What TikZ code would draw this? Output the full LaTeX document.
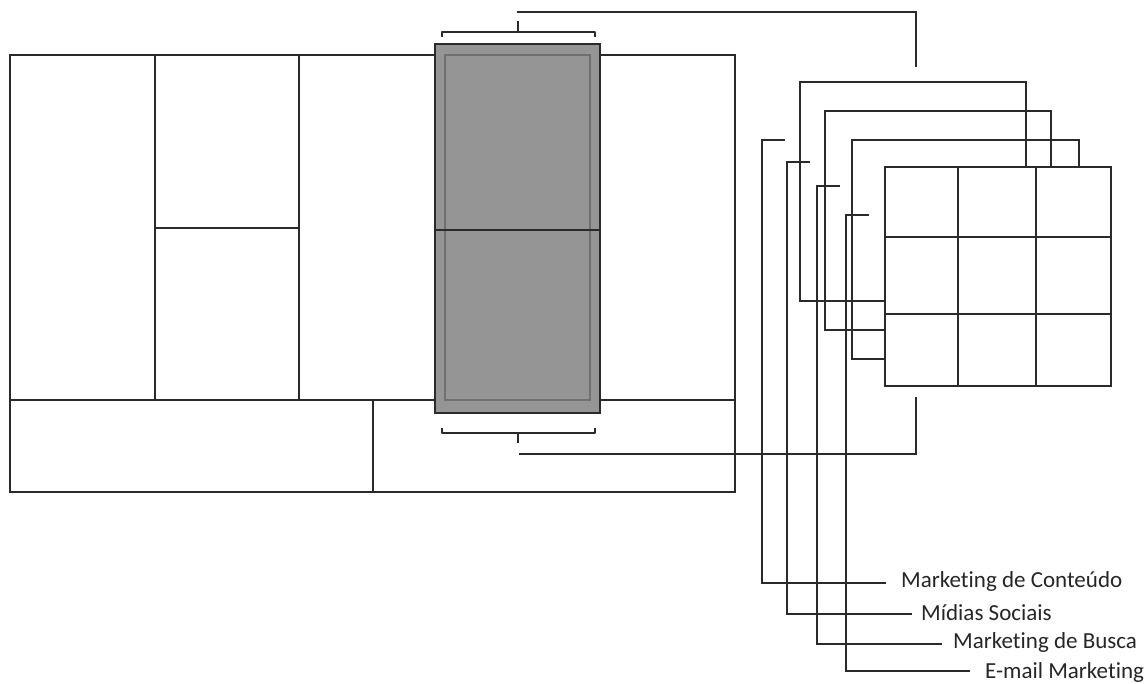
\documentclass[tikz,border=0pt]{standalone}
\usepackage{fontspec}
\setmainfont{Carlito}[Ligatures=NoCommon]
\usepackage{tikz}
\usetikzlibrary{positioning,calc}
\definecolor{colgray}{HTML}{959595}
\definecolor{colline}{HTML}{707070}
\definecolor{inkline}{HTML}{2A2A2A}
\tikzset{
  % canvas
  cv/.style={draw=inkline,line width=1.4pt},
  col/.style={fill=colgray,draw=inkline,line width=1.4pt},
  colin/.style={draw=colline,line width=1.4pt},
  % chaves e ligações
  brc/.style={draw=inkline,line width=1.3pt,line join=round},
  ldr/.style={draw=inkline,line width=1.3pt},
  % camadas
  lay/.style={draw=inkline,line width=1.3pt},
  lbl/.style={font=\fontsize{23}{28}\selectfont,text=black!85,anchor=west,inner sep=0pt},
}
\begin{document}
\begin{tikzpicture}[x=1pt,y=-1pt]
\useasboundingbox (0,0) rectangle (1147,684);
  % canvas
  \draw[cv] (10,55) rectangle (735,492);
  \draw[cv] (10,400) -- (735,400);
  \draw[cv] (155,55) -- (155,400);
  \draw[cv] (299,55) -- (299,400);
  \draw[cv] (155,228) -- (299,228);
  \draw[cv] (373,400) -- (373,492);
  % coluna destacada
  \draw[col] (435,44) rectangle (600,413);
  \draw[colin] (445,55) rectangle (590,400);
  \draw[cv] (435,230) -- (600,230);
  % chaves
  \coordinate (bt) at (518,32);
  \coordinate (bb) at (518,433);
  \draw[brc] (442,37) -- (442,32) -- (595,32) -- (595,37);
  \draw[brc] (bt) -- ++(0,-11);
  \draw[brc] (442,428) -- (442,433) -- (595,433) -- (595,428);
  \draw[brc] (bb) -- ++(0,10);
  \draw[ldr] (517,12) -- (916,12) -- (916,67);
  \draw[ldr] (519,454) -- (916,454) -- (916,397);
  % camadas
  \draw[lay] (1026,167) -- (1026,82) -- (800,82) -- (800,301) -- (885,301);
  \draw[lay] (1051,167) -- (1051,111) -- (825,111) -- (825,330) -- (885,330);
  \draw[lay] (1079,167) -- (1079,140) -- (852,140) -- (852,359) -- (885,359);
  % grade frontal
  \draw[lay,fill=white] (885,167) rectangle (1111,386);
  \foreach \x in {958,1036} \draw[lay] (\x,167) -- (\x,386);
  \foreach \y in {237,314} \draw[lay] (885,\y) -- (1111,\y);
  % rótulos
  \node[lbl] (conteudo) at (901,581) {Marketing de Conteúdo};
  \node[lbl] (midias) at (921,613) {Mídias Sociais};
  \node[lbl] (busca) at (953,642) {Marketing de Busca};
  \node[lbl] (email) at (985,672) {E-mail Marketing};
  \draw[ldr] (785,140) -- (762,140) |- ([xshift=-15pt,yshift=-2pt]conteudo.west);
  \draw[ldr] (810,162) -- (787,162) |- ([xshift=-9pt,yshift=-1pt]midias.west);
  \draw[ldr] (840,186) -- (817,186) |- ([xshift=-11pt,yshift=-2pt]busca.west);
  \draw[ldr] (869,215) -- (846,215) |- ([xshift=-15pt,yshift=1pt]email.west);
\end{tikzpicture}
\end{document}
